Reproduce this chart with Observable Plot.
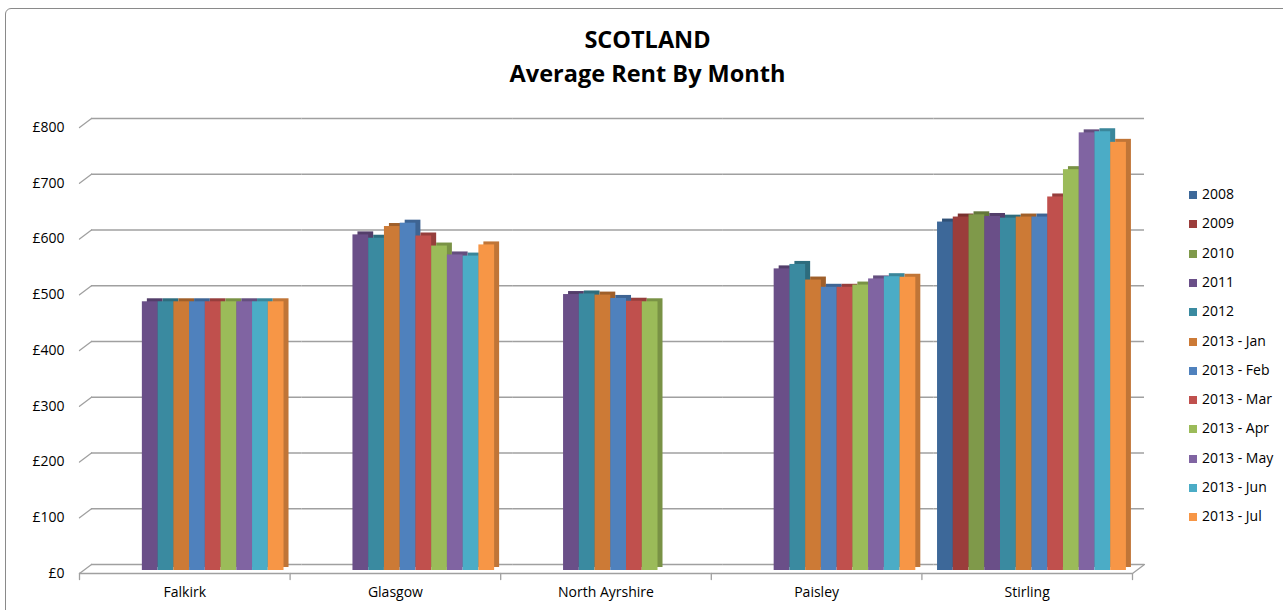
<!DOCTYPE html>
<html>
<head>
<meta charset="utf-8">
<script src="https://cdn.jsdelivr.net/npm/d3@7"></script>
<script src="https://cdn.jsdelivr.net/npm/@observablehq/plot@0.6"></script>
<style>
html, body { margin: 0; padding: 0; background: #fff; }
#wrap { position: relative; width: 1283px; height: 610px; overflow: hidden; font-family: "Open Sans", "Liberation Sans", sans-serif; }
#border { position: absolute; left: 5px; top: 8px; width: 1300px; height: 660px; border: 1px solid #8a8a8a; border-radius: 6px; box-sizing: border-box; }
#chart { position: absolute; left: 0; top: 0; }
#title { position: absolute; left: 5px; top: 22px; width: 1285px; text-align: center; font-weight: bold; font-size: 23.5px; line-height: 34px; color: #000; }
.lg { position: absolute; left: 1189px; font-size: 14px; line-height: 18px; color: #000; white-space: nowrap; }
.lg span.sw { display: inline-block; width: 8px; height: 8px; margin-right: 5px; vertical-align: 0px; }
</style>
</head>
<body>
<div id="wrap">
  <div id="border"></div>
  <div id="chart"></div>
  <div id="title">SCOTLAND<br>Average Rent By Month</div>
  <div id="legend"></div>
</div>
<script>
// ---- data ----
const cities = ["Falkirk", "Glasgow", "North Ayrshire", "Paisley", "Stirling"];
const series = ["2008", "2009", "2010", "2011", "2012", "2013 - Jan", "2013 - Feb", "2013 - Mar", "2013 - Apr", "2013 - May", "2013 - Jun", "2013 - Jul"];
const seriesColors = ["#3d6899", "#9b3d3b", "#7f994a", "#6a4f88", "#3a8aa0", "#cc7a36", "#4f81bd", "#c0504d", "#9bbb59", "#8064a2", "#4bacc6", "#f79646"];
const rentFalkirk       = [null, null, null, 482, 482, 482, 482, 482, 482, 482, 482, 482];
const rentGlasgow       = [null, null, null, 602, 596, 617, 623, 600, 582, 566, 564, 584];
const rentNorthAyrshire = [null, null, null, 495, 496, 494, 488, 483, 482, null, null, null];
const rentPaisley       = [null, null, null, 541, 549, 521, 508, 508, 512, 523, 527, 526];
const rentStirling      = [625, 634, 638, 635, 632, 634, 634, 670, 719, 785, 787, 768];
const yTicks = [0, 100, 200, 300, 400, 500, 600, 700, 800];

const rentByCity = [rentFalkirk, rentGlasgow, rentNorthAyrshire, rentPaisley, rentStirling];
const data = cities.flatMap((c, i) => rentByCity[i].map((v, j) => ({city: c, series: series[j], value: v})))
  .filter(d => d.value != null);

const colorOf = new Map(series.map((s, i) => [s, seriesColors[i]]));
const shadeOf = new Map(series.map((s, i) => [s, d3.color(seriesColors[i]).darker(0.7).formatHex()]));

const grid = "#a0a0a0";
const line = {draw(context, l) { context.moveTo(0, 0); context.lineTo(0, -l); }};

const plot = Plot.plot({
  width: 1283,
  height: 610,
  marginTop: 124,
  marginBottom: 40,
  marginLeft: 79,
  marginRight: 151,
  fx: {domain: cities, padding: 0, round: false, axis: null},
  x: {domain: series, paddingInner: 0, paddingOuter: 0.69, align: 0.72, round: false, axis: null},
  y: {domain: [0, 800], axis: null},
  style: {fontFamily: "'Open Sans', 'Liberation Sans', sans-serif", fontSize: "14px", color: "#000", background: "transparent"},
  marks: [
    // back wall gridlines
    Plot.ruleY(yTicks, {dx: 12, dy: -6, stroke: grid, strokeWidth: 1.3}),
    // floor front edge
    Plot.ruleY([0], {dy: 3, stroke: grid, strokeWidth: 1.3}),
    // side-wall connectors
    Plot.vector(yTicks, {fx: () => "Falkirk", y: d => d, frameAnchor: "left", dy: 3, length: 15, rotate: 53, anchor: "start", shape: line, stroke: grid, strokeWidth: 1.3}),
    Plot.vector([0], {fx: () => "Stirling", y: d => d, frameAnchor: "right", dy: 3, length: 15, rotate: 53, anchor: "start", shape: line, stroke: grid, strokeWidth: 1.3}),
    // category boundary ticks
    Plot.vector([0], {y: d => d, frameAnchor: "right", dy: 3, length: 6, rotate: 180, anchor: "start", shape: line, stroke: grid, strokeWidth: 1.3}),
    Plot.vector([0], {fx: () => "Falkirk", y: d => d, frameAnchor: "left", dy: 3, length: 6, rotate: 180, anchor: "start", shape: line, stroke: grid, strokeWidth: 1.3}),
    Plot.axisY(yTicks, {anchor: "left", tickSize: 0, tickPadding: 15, dy: 3, tickFormat: d => "£" + d, line: true, label: null, stroke: grid, fill: "#000", fontSize: 14}),
    // 3D depth (side + top faces)
    Plot.barY(data, {fx: "city", x: "series", y: "value", fill: d => shadeOf.get(d.series), dx: 5, dy: -3}),
    // front faces
    Plot.barY(data, {fx: "city", x: "series", y: "value", fill: d => colorOf.get(d.series)}),
    Plot.axisFx({anchor: "bottom", tickSize: 0, tickPadding: 17, label: null, fontSize: 14, fill: "#000"})
  ]
});
document.getElementById("chart").appendChild(plot);

// legend
const legend = document.getElementById("legend");
series.forEach((s, i) => {
  const row = document.createElement("div");
  row.className = "lg";
  row.style.top = (194 - 9 + i * 29.3) + "px";
  row.innerHTML = `<span class="sw" style="background:${seriesColors[i]}"></span>${s}`;
  legend.appendChild(row);
});
</script>
</body>
</html>
